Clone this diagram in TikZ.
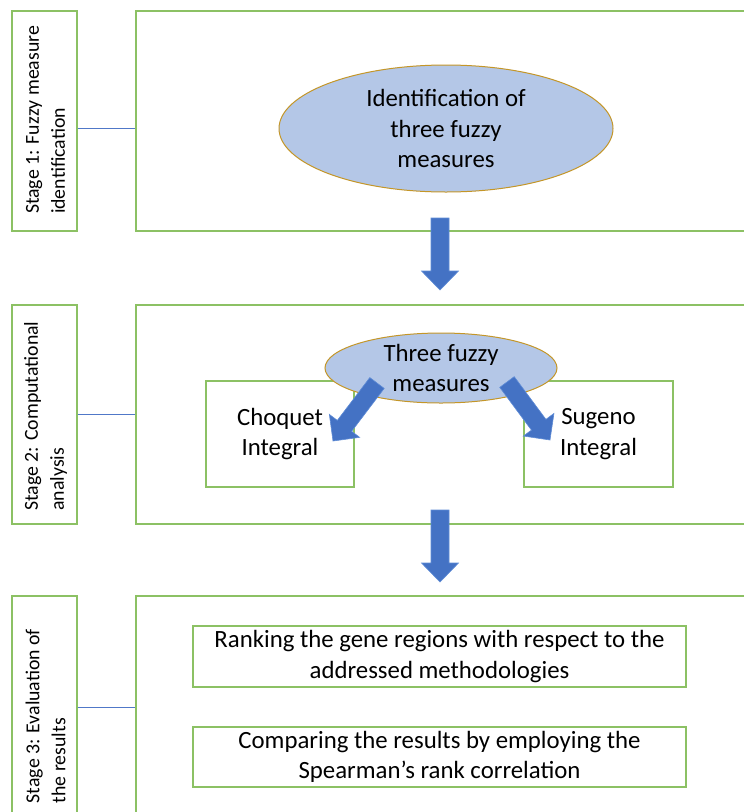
\documentclass[tikz,border=0pt]{standalone}
\usepackage{fontspec}
\setmainfont{Carlito}
\usetikzlibrary{shapes.geometric,calc}
\definecolor{grn}{RGB}{140,193,100}
\definecolor{ellfill}{RGB}{180,199,231}
\definecolor{ellline}{RGB}{196,150,40}
\definecolor{arrfill}{RGB}{68,114,196}
\definecolor{arrline}{RGB}{95,140,214}
\definecolor{connc}{RGB}{80,120,200}
\newcommand\blockarrow[4]{%
  \coordinate (ah) at ($(#2)!19pt!(#1)$);
  \draw[blockarr] ($(#1)!#3!90:(#2)$) -- ($(ah)!#3!90:(#2)$) -- ($(ah)!#4!90:(#2)$) -- (#2)
    -- ($(ah)!#4!-90:(#2)$) -- ($(ah)!#3!-90:(#2)$) -- ($(#1)!#3!-90:(#2)$) -- cycle;}
\tikzset{
  stagebox/.style={draw=grn, line width=1.3pt, minimum width=65pt, inner sep=0pt},
  bigbox/.style={draw=grn, line width=1.3pt, minimum width=630pt, inner sep=0pt},
  subbox/.style={draw=grn, line width=1.3pt, inner sep=0pt, align=center, font=\fontsize{24.8}{30.5}\selectfont},
  stagetext/.style={rotate=90, align=left, inner sep=0pt, font=\fontsize{19.8}{26}\selectfont},
  ell/.style={ellipse, draw=ellline, line width=1pt, fill=ellfill, inner sep=0pt, align=center, font=\fontsize{24.8}{30.5}\selectfont},
  conn/.style={draw=connc, line width=0.9pt},
  blockarr/.style={fill=arrfill, draw=arrline, line width=0.6pt, line join=miter},
}
\begin{document}
\begin{tikzpicture}[x=1pt, y=-1pt]
\clip (0,0) rectangle (744,812);
\fill[white] (0,0) rectangle (744,812);
% stage boxes
\node[stagebox, minimum height=220pt] (s1) at (44.5,121) {};
\node[stagebox, minimum height=219pt] (s2) at (44.5,414.5) {};
\node[stagebox, minimum height=222pt] (s3) at (44.5,707) {};
\node[stagetext] (t1) at (45.5,120) {Stage 1: Fuzzy measure\\identification};
\node[stagetext] (t2) at (45.5,416) {Stage 2: Computational\\analysis};
\node[stagetext] (t3) at (45.5,716) {Stage 3: Evaluation of\\the results};
% big boxes
\node[bigbox, minimum height=220pt] (b1) at (451,121) {};
\node[bigbox, minimum height=219pt] (b2) at (451,414.5) {};
\node[bigbox, minimum height=222pt] (b3) at (451,707) {};
% stage 1
\node[ell, minimum width=334pt, minimum height=127pt] (e1) at (446,128.5) {Identification of\\three fuzzy\\measures};
% stage 2
\node[subbox, minimum width=148pt, minimum height=106pt] (cq) at (280,434) {Choquet\\Integral};
\node[subbox, minimum width=149pt, minimum height=106pt] (sg) at (598.5,434) {Sugeno\\Integral};
\node[ell, minimum width=232pt, minimum height=70pt] (e2) at (441,368) {Three fuzzy\\measures};
% stage 3
\node[subbox, minimum width=493pt, minimum height=61pt] (r1) at (439.5,656.5) {Ranking the gene regions with respect to the\\addressed methodologies};
\node[subbox, minimum width=493pt, minimum height=60pt] (r2) at (439.5,757) {Comparing the results by employing the\\Spearman’s rank correlation};
% connectors
\draw[conn] (s1.east |- e1) -- (b1.west |- e1);
\draw[conn] (s2.east) -- (b2.west);
\draw[conn] (s3.east) -- (b3.west);
% block arrows
\coordinate (a1t) at (440,218);
\coordinate (a1h) at (440,290);
\coordinate (a2t) at (440,510);
\coordinate (a2h) at (440,582);
\coordinate (a3t) at (377,383);
\coordinate (a3h) at (333,441);
\coordinate (a4t) at (507,382);
\coordinate (a4h) at (550,440);
\blockarrow{a1t}{a1h}{9pt}{18.5pt}
\blockarrow{a2t}{a2h}{9pt}{18.5pt}
\blockarrow{a3t}{a3h}{9pt}{19pt}
\blockarrow{a4t}{a4h}{9pt}{19pt}
\end{tikzpicture}
\end{document}
